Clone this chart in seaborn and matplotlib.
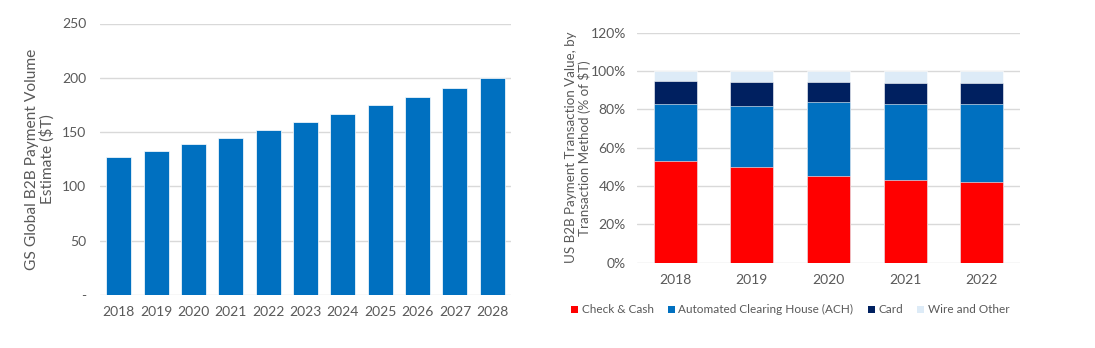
import numpy as np
import pandas as pd
import matplotlib
matplotlib.use("Agg")
import matplotlib.pyplot as plt
import seaborn as sns
from matplotlib.patches import Patch

# ---- data ----
years_left = ["2018", "2019", "2020", "2021", "2022", "2023", "2024", "2025", "2026", "2027", "2028"]
volume = [127, 133, 139, 145, 152, 159, 167, 175, 182.5, 191, 200]

years_right = ["2018", "2019", "2020", "2021", "2022"]
check_cash = [53, 50, 45, 43, 42]
ach = [30, 32, 39, 40, 41]
card = [12, 12.5, 10.5, 11, 11]
wire_other = [5, 5.5, 5.5, 6, 6]
series_names = ["Check & Cash", "Automated Clearing House (ACH)", "Card", "Wire and Other"]

sns.set_theme(style="white")
plt.rcParams["font.family"] = ["Lato", "DejaVu Sans"]

TXT = "#595959"
GRID = "#d9d9d9"
BLUE = "#0070C0"
RED = "#FF0000"
NAVY = "#002060"
LIGHT = "#DDEBF7"
FS = 10

fig = plt.figure(figsize=(10.95, 3.48), dpi=100)
W, H = 1095, 348
ax1 = fig.add_axes([100 / W, 1 - 295 / H, 411 / W, (295 - 23.5) / H])
ax2 = fig.add_axes([637 / W, 1 - 262.7 / H, 383 / W, (262.7 - 32.7) / H])

# ---- left chart ----
df1 = pd.DataFrame({"year": years_left, "vol": volume})
sns.barplot(data=df1, x="year", y="vol", color=BLUE, saturation=1, width=0.67,
            edgecolor="white", linewidth=0.5, ax=ax1, zorder=3)
ax1.set_ylim(0, 250)
ax1.set_xlim(-0.5, len(years_left) - 0.5)
ax1.set_yticks([0, 50, 100, 150, 200, 250])
ax1.set_yticklabels(["-", "50", "100", "150", "200", "250"])
ax1.set_xlabel("")
ax1.set_ylabel("GS Global B2B Payment Volume\nEstimate ($T)", color=TXT, fontsize=11.2, labelpad=5,
               linespacing=1.05)

# ---- right chart (stacked via overlaid cumulative sums) ----
layers = [check_cash, ach, card, wire_other]
colors = [RED, BLUE, NAVY, LIGHT]
cum = np.cumsum(np.array(layers, dtype=float), axis=0)
for i in range(len(layers) - 1, -1, -1):
    dfi = pd.DataFrame({"year": years_right, "val": cum[i]})
    sns.barplot(data=dfi, x="year", y="val", color=colors[i], saturation=1, width=0.56,
                edgecolor="white", linewidth=0.4, ax=ax2, zorder=3)
ax2.set_ylim(0, 120)
ax2.set_xlim(-0.5, len(years_right) - 0.5)
ax2.set_yticks(range(0, 121, 20))
ax2.set_yticklabels([f"{v}%" for v in range(0, 121, 20)])
ax2.set_xlabel("")
ax2.set_ylabel("US B2B Payment Transaction Value, by\nTransaction Method (% of $T)", color=TXT,
               fontsize=9.6, labelpad=0, linespacing=1.05)

handles = [Patch(facecolor=c, edgecolor="none") for c in colors]
ax2.legend(handles, series_names, loc="upper center", bbox_to_anchor=(0.40, -0.135), ncol=4,
           frameon=False, fontsize=8.5, handlelength=0.6, handleheight=0.6, handletextpad=0.3,
           columnspacing=1.2, labelcolor=TXT)

for ax in (ax1, ax2):
    for s in ax.spines.values():
        s.set_visible(False)
    ax.grid(axis="y", color=GRID, linewidth=1, zorder=0)
    ax.set_axisbelow(True)
    ax.tick_params(axis="both", length=0, colors=TXT, labelsize=FS)
    ax.tick_params(axis="x", pad=8)
ax1.tick_params(axis="y", pad=10)
ax2.tick_params(axis="y", pad=8)

fig.savefig("out.png", dpi=100, facecolor="white")
